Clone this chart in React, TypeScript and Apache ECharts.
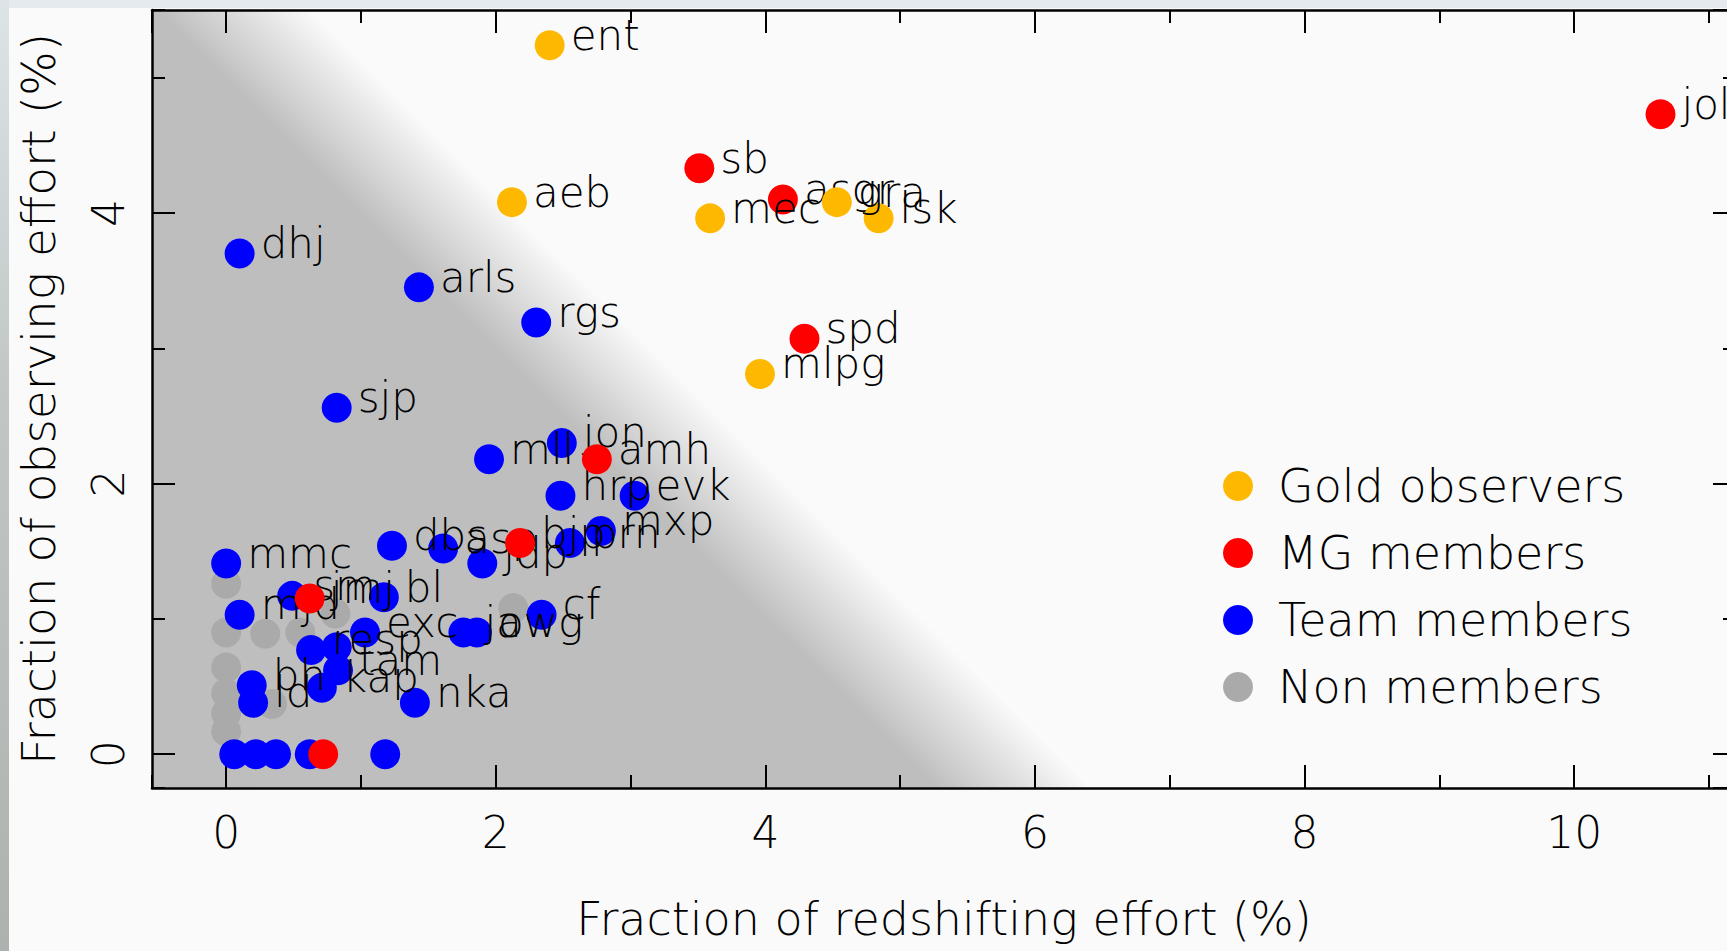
import React, { useEffect, useRef } from "react";
import * as echarts from "echarts";

// Axis extents (percent of effort)
const X_MIN = -0.55;
const X_MAX = 11.2;
const Y_MIN = -0.25;
const Y_MAX = 5.5;

// Diagonal shading: fully grey below SHADE_START, fading out by SHADE_END (x + y)
const SHADE_START = 5.0;
const SHADE_END = 6.15;

const LEGEND_NAMES = ["Gold observers", "MG members", "Team members", "Non members"];

// [redshifting %, observing %, label]
const goldObservers: [number, number, string][] = [
  [2.4, 5.24, "ent"],
  [2.12, 4.08, "aeb"],
  [3.59, 3.96, "mec"],
  [4.53, 4.08, "gra"],
  [4.84, 3.96, "lsk"],
  [3.96, 2.81, "mlpg"],
];

const mgMembers: [number, number, string][] = [
  [10.64, 4.73, "jol"],
  [3.51, 4.33, "sb"],
  [4.13, 4.1, "asgr"],
  [4.29, 3.07, "spd"],
  [2.75, 2.18, "amh"],
  [2.18, 1.56, "bjp"],
  [0.62, 1.15, "jmj"],
  [0.72, 0.0, ""],
];

const teamMembers: [number, number, string][] = [
  [0.1, 3.7, "dhj"],
  [1.43, 3.45, "arls"],
  [2.3, 3.19, "rgs"],
  [0.82, 2.56, "sjp"],
  [1.95, 2.18, "mll"],
  [2.49, 2.3, "jon"],
  [2.48, 1.91, "hrp"],
  [3.03, 1.91, "evk"],
  [2.78, 1.65, "mxp"],
  [0.0, 1.41, "mmc"],
  [1.23, 1.54, "dbs"],
  [1.61, 1.52, "asp"],
  [1.9, 1.41, "jdp"],
  [2.55, 1.56, "prn"],
  [0.49, 1.17, "sm"],
  [1.17, 1.16, "bl"],
  [0.1, 1.03, "mjd"],
  [1.03, 0.9, "exc"],
  [1.76, 0.9, "ja"],
  [1.86, 0.9, "owg"],
  [2.34, 1.03, "cf"],
  [0.63, 0.77, "resp"],
  [0.82, 0.79, ""],
  [0.83, 0.62, "tam"],
  [0.71, 0.49, "kap"],
  [0.19, 0.51, "bh"],
  [0.2, 0.38, "ld"],
  [1.4, 0.38, "nka"],
  [0.06, 0.0, ""],
  [0.22, 0.0, ""],
  [0.37, 0.0, ""],
  [0.62, 0.0, ""],
  [1.18, 0.0, ""],
];

const nonMembers: [number, number, string][] = [
  [0.0, 1.26, ""],
  [0.0, 0.9, ""],
  [0.29, 0.89, ""],
  [0.55, 0.9, ""],
  [0.81, 1.04, ""],
  [0.0, 0.64, ""],
  [0.0, 0.45, ""],
  [0.0, 0.3, ""],
  [0.0, 0.17, ""],
  [0.34, 0.37, ""],
  [2.13, 1.08, ""],
];

const COLORS = {
  gold: "#ffb800",
  mg: "#ff0000",
  team: "#0000ff",
  non: "#aaaaaa",
};

const FONT = "'DejaVu Sans', sans-serif";

function pointSeries(name: string, color: string, data: [number, number, string][], z: number) {
  return {
    name,
    type: "scatter",
    data,
    encode: { x: 0, y: 1 },
    symbol: "circle",
    symbolSize: 30,
    itemStyle: { color, opacity: 1 },
    z,
    label: {
      show: true,
      position: "right",
      distance: 6,
      offset: [0, -10],
      formatter: (p: any) => p.data[2],
      color: "#000",
      fontSize: 42,
      fontFamily: FONT,
      fontWeight: 200,
    },
    emphasis: { disabled: true },
  };
}

function xAxisDef(position: "top" | "bottom", major: boolean, withLabels: boolean) {
  return {
    type: "value",
    position,
    min: X_MIN,
    max: X_MAX,
    minInterval: major ? 2 : 1,
    maxInterval: major ? 2 : 1,
    splitLine: { show: false },
    axisLine: { show: major, onZero: false, lineStyle: { color: "#000", width: 2.5 } },
    axisTick: { show: true, inside: true, length: major ? 23 : 13, lineStyle: { color: "#000", width: 2 } },
    axisLabel: withLabels
      ? {
          show: true,
          margin: 22,
          fontSize: 44,
          color: "#000",
          fontFamily: FONT,
          fontWeight: 200,
          showMinLabel: false,
          showMaxLabel: false,
        }
      : { show: false },
    ...(withLabels
      ? {
          name: "Fraction of redshifting effort (%)",
          nameLocation: "middle",
          nameGap: 108,
          nameTextStyle: { fontSize: 46, color: "#000", fontFamily: FONT, fontWeight: 200 },
        }
      : {}),
  };
}

function yAxisDef(position: "left" | "right", major: boolean, withLabels: boolean) {
  return {
    type: "value",
    position,
    min: Y_MIN,
    max: Y_MAX,
    minInterval: major ? 2 : 1,
    maxInterval: major ? 2 : 1,
    splitLine: { show: false },
    axisLine: { show: major, onZero: false, lineStyle: { color: "#000", width: 2.5 } },
    axisTick: { show: true, inside: true, length: major ? 23 : 13, lineStyle: { color: "#000", width: 2 } },
    axisLabel: withLabels
      ? {
          show: true,
          rotate: 90,
          margin: 22,
          fontSize: 44,
          color: "#000",
          fontFamily: FONT,
          fontWeight: 200,
          showMinLabel: false,
          showMaxLabel: false,
        }
      : { show: false },
    ...(withLabels
      ? {
          name: "Fraction of observing effort (%)",
          nameLocation: "middle",
          nameGap: 90,
          nameTextStyle: { fontSize: 47, color: "#000", fontFamily: FONT, fontWeight: 200 },
        }
      : {}),
  };
}

export default function App() {
  const ref = useRef<HTMLDivElement>(null);

  useEffect(() => {
    if (!ref.current) return;
    const chart = echarts.init(ref.current, null, { renderer: "svg" });

    const shading = {
      type: "custom",
      silent: true,
      z: 0,
      clip: true,
      data: [[0, 0]],
      renderItem: (_params: any, api: any) => {
        const corners = [
          [X_MIN, Y_MIN],
          [SHADE_END - Y_MIN, Y_MIN],
          [SHADE_END - Y_MAX, Y_MAX],
          [X_MIN, Y_MAX],
        ].map((p) => api.coord(p));
        const g0 = api.coord([SHADE_START / 2, SHADE_START / 2]);
        const g1 = api.coord([SHADE_END / 2, SHADE_END / 2]);
        return {
          type: "polygon",
          shape: { points: corners },
          style: {
            fill: new echarts.graphic.LinearGradient(
              g0[0],
              g0[1],
              g1[0],
              g1[1],
              [
                { offset: 0, color: "#bebebe" },
                { offset: 1, color: "#fafafa" },
              ],
              true
            ),
          },
        };
      },
    };

    chart.setOption({
      animation: false,
      backgroundColor: "#fafafa",
      textStyle: { fontFamily: FONT },
      grid: {
        left: 152,
        right: -9,
        top: 10,
        bottom: 163,
        containLabel: false,
        outerBoundsMode: "none",
      },
      graphic: [
        {
          type: "rect",
          left: 0,
          top: 0,
          shape: { width: 1727, height: 8 },
          style: { fill: "#e4eaed" },
          silent: true,
        },
        {
          type: "rect",
          left: 0,
          top: 0,
          shape: { width: 9, height: 951 },
          style: {
            fill: new echarts.graphic.LinearGradient(0, 0, 0, 1, [
              { offset: 0, color: "#dde4e8" },
              { offset: 0.4, color: "#c2c7c6" },
              { offset: 1, color: "#aeb2ae" },
            ]),
          },
          silent: true,
        },
      ],
      legend: {
        orient: "vertical",
        left: 1218,
        top: 458,
        itemWidth: 70,
        itemHeight: 30,
        itemGap: 21,
        icon: "circle",
        selectedMode: false,
        data: LEGEND_NAMES,
        textStyle: { fontSize: 46, color: "#000", fontFamily: FONT, fontWeight: 200 },
      },
      xAxis: [
        xAxisDef("bottom", true, true),
        xAxisDef("bottom", false, false),
        xAxisDef("top", true, false),
        xAxisDef("top", false, false),
      ],
      yAxis: [
        yAxisDef("left", true, true),
        yAxisDef("left", false, false),
        yAxisDef("right", true, false),
        yAxisDef("right", false, false),
      ],
      series: [
        shading,
        pointSeries(LEGEND_NAMES[3], COLORS.non, nonMembers, 2),
        pointSeries(LEGEND_NAMES[2], COLORS.team, teamMembers, 3),
        pointSeries(LEGEND_NAMES[1], COLORS.mg, mgMembers, 4),
        pointSeries(LEGEND_NAMES[0], COLORS.gold, goldObservers, 5),
      ],
    });

    return () => chart.dispose();
  }, []);

  return (
    <div
      ref={ref}
      style={{ position: "fixed", left: 0, top: 0, width: 1727, height: 951 }}
    />
  );
}
